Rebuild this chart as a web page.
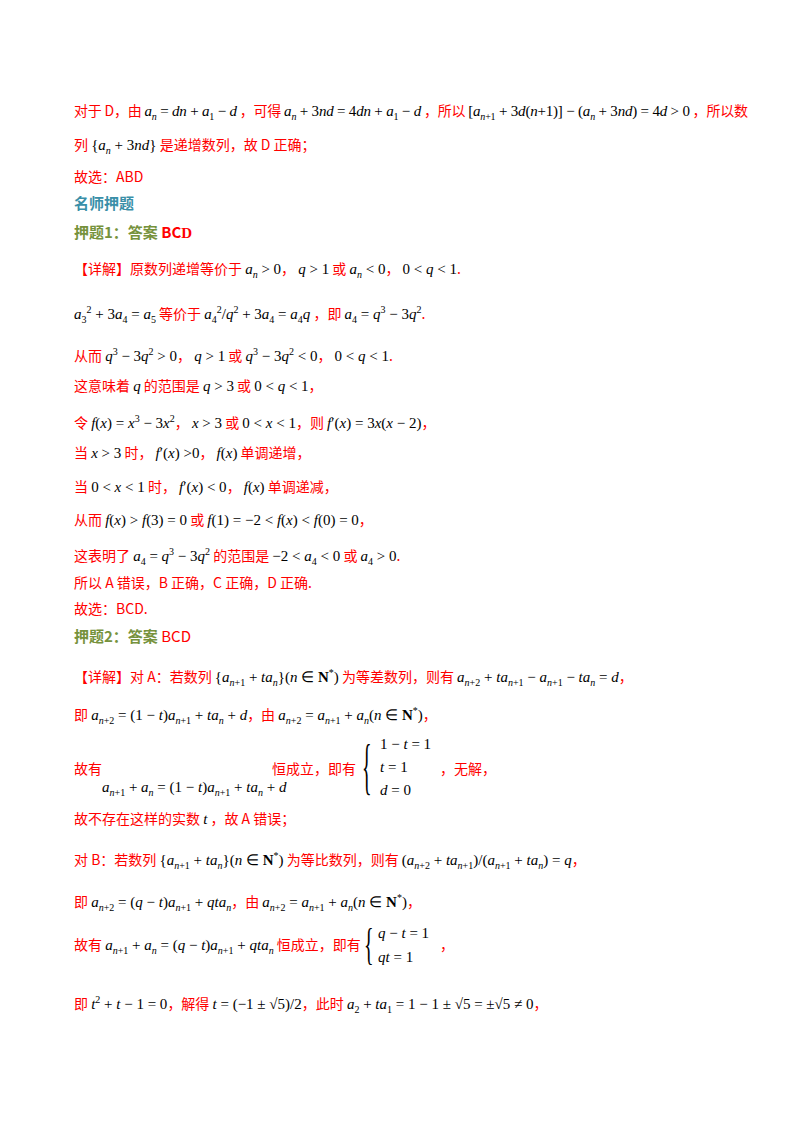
<!DOCTYPE html>
<html><head><meta charset="utf-8">
<script src="https://cdn.jsdelivr.net/npm/chart.js@4"></script>
<style>
body{margin:0;width:800px;height:1132px;background:#fff;position:relative;font-family:"Noto Sans CJK SC",sans-serif;}
.l{position:absolute;left:74px;font-size:14px;color:#f00;white-space:nowrap;line-height:20px;}
.m{font-family:"Liberation Serif",serif;color:#000;font-size:15px;}
i{font-family:"Liberation Serif",serif;}
.h1{color:#3a8fa8;font-weight:bold;font-size:15px;}
.h2{color:#76923c;font-weight:bold;font-size:15px;}
sub,sup{font-size:10px;}
.br{position:absolute;color:#000;font-family:'Liberation Serif';transform-origin:left top;}
</style></head><body>
<div class="l" style="top:100px;letter-spacing:-0.2px">对于 D，由 <span class="m"><i>a<sub>n</sub></i> = <i>dn</i> + <i>a</i><sub>1</sub> − <i>d</i></span> ，可得 <span class="m"><i>a<sub>n</sub></i> + 3<i>nd</i> = 4<i>dn</i> + <i>a</i><sub>1</sub> − <i>d</i></span> ，所以 <span class="m">[<i>a</i><sub><i>n</i>+1</sub> + 3<i>d</i>(<i>n</i>+1)] − (<i>a<sub>n</sub></i> + 3<i>nd</i>) = 4<i>d</i> &gt; 0</span> ，所以数</div>
<div class="l" style="top:134px">列 <span class="m">{<i>a<sub>n</sub></i> + 3<i>nd</i>}</span> 是递增数列，故 D 正确；</div>
<div class="l" style="top:166px">故选：ABD</div>
<div class="l h1" style="top:193px">名师押题</div>
<div class="l h2" style="top:222px">押题1：答案 <span style="color:#f00">BC<span style="font-family:'Liberation Serif';font-weight:bold">D</span></span></div>
<div class="l" style="top:258px">【详解】原数列递增等价于 <span class="m"><i>a<sub>n</sub></i> &gt; 0</span>， <span class="m"><i>q</i> &gt; 1</span> 或 <span class="m"><i>a<sub>n</sub></i> &lt; 0</span>， <span class="m">0 &lt; <i>q</i> &lt; 1</span>.</div>
<div class="l" style="top:300px"><span class="m"><i>a</i><sub>3</sub><sup>2</sup> + 3<i>a</i><sub>4</sub> = <i>a</i><sub>5</sub></span> 等价于 <span class="m"><i>a</i><sub>4</sub><sup>2</sup>/<i>q</i><sup>2</sup> + 3<i>a</i><sub>4</sub> = <i>a</i><sub>4</sub><i>q</i></span> ，即 <span class="m"><i>a</i><sub>4</sub> = <i>q</i><sup>3</sup> − 3<i>q</i><sup>2</sup></span>.</div>
<div class="l" style="top:342px">从而 <span class="m"><i>q</i><sup>3</sup> − 3<i>q</i><sup>2</sup> &gt; 0</span>， <span class="m"><i>q</i> &gt; 1</span> 或 <span class="m"><i>q</i><sup>3</sup> − 3<i>q</i><sup>2</sup> &lt; 0</span>， <span class="m">0 &lt; <i>q</i> &lt; 1</span>.</div>
<div class="l" style="top:375px">这意味着 <span class="m"><i>q</i></span> 的范围是 <span class="m"><i>q</i> &gt; 3</span> 或 <span class="m">0 &lt; <i>q</i> &lt; 1</span>，</div>
<div class="l" style="top:409px">令 <span class="m"><i>f</i>(<i>x</i>) = <i>x</i><sup>3</sup> − 3<i>x</i><sup>2</sup></span>， <span class="m"><i>x</i> &gt; 3</span> 或 <span class="m">0 &lt; <i>x</i> &lt; 1</span>，则 <span class="m"><i>f</i>′(<i>x</i>) = 3<i>x</i>(<i>x</i> − 2)</span>，</div>
<div class="l" style="top:442px">当 <span class="m"><i>x</i> &gt; 3</span> 时， <span class="m"><i>f</i>′(<i>x</i>) &gt;0</span>， <span class="m"><i>f</i>(<i>x</i>)</span> 单调递增，</div>
<div class="l" style="top:476px">当 <span class="m">0 &lt; <i>x</i> &lt; 1</span> 时， <span class="m"><i>f</i>′(<i>x</i>) &lt; 0</span>， <span class="m"><i>f</i>(<i>x</i>)</span> 单调递减，</div>
<div class="l" style="top:509px">从而 <span class="m"><i>f</i>(<i>x</i>) &gt; <i>f</i>(3) = 0</span> 或 <span class="m"><i>f</i>(1) = −2 &lt; <i>f</i>(<i>x</i>) &lt; <i>f</i>(0) = 0</span>，</div>
<div class="l" style="top:542px">这表明了 <span class="m"><i>a</i><sub>4</sub> = <i>q</i><sup>3</sup> − 3<i>q</i><sup>2</sup></span> 的范围是 <span class="m">−2 &lt; <i>a</i><sub>4</sub> &lt; 0</span> 或 <span class="m"><i>a</i><sub>4</sub> &gt; 0</span>.</div>
<div class="l" style="top:572px">所以 A 错误，B 正确，C 正确，D 正确.</div>
<div class="l" style="top:598px">故选：BCD.</div>
<div class="l h2" style="top:626px">押题2：答案 <span style="color:#f00;font-weight:normal">BCD</span></div>
<div class="l" style="top:663px">【详解】对 A：若数列 <span class="m">{<i>a</i><sub><i>n</i>+1</sub> + <i>ta<sub>n</sub></i>}(<i>n</i> ∈ <b>N</b><sup>*</sup>)</span> 为等差数列，则有 <span class="m"><i>a</i><sub><i>n</i>+2</sub> + <i>ta</i><sub><i>n</i>+1</sub> − <i>a</i><sub><i>n</i>+1</sub> − <i>ta<sub>n</sub></i> = <i>d</i></span>，</div>
<div class="l" style="top:701px">即 <span class="m"><i>a</i><sub><i>n</i>+2</sub> = (1 − <i>t</i>)<i>a</i><sub><i>n</i>+1</sub> + <i>ta<sub>n</sub></i> + <i>d</i></span>，由 <span class="m"><i>a</i><sub><i>n</i>+2</sub> = <i>a</i><sub><i>n</i>+1</sub> + <i>a<sub>n</sub></i>(<i>n</i> ∈ <b>N</b><sup>*</sup>)</span>，</div>
<div class="l" style="top:758px">故有</div>
<div class="l" style="top:776px;left:102px"><span class="m"><i>a</i><sub><i>n</i>+1</sub> + <i>a<sub>n</sub></i> = (1 − <i>t</i>)<i>a</i><sub><i>n</i>+1</sub> + <i>ta<sub>n</sub></i> + <i>d</i></span></div>
<div class="l" style="top:758px;left:272px">恒成立，即有</div>
<div class="br" style="top:734px;left:362px;font-size:20px;line-height:20px;transform:scale(1,3.1)">{</div>
<div class="l" style="top:733px;left:380px"><span class="m">1 − <i>t</i> = 1</span></div>
<div class="l" style="top:756px;left:380px"><span class="m"><i>t</i> = 1</span></div>
<div class="l" style="top:758px;left:440px">，无解，</div>
<div class="l" style="top:779px;left:380px"><span class="m"><i>d</i> = 0</span></div>
<div class="l" style="top:808px">故不存在这样的实数 <span class="m"><i>t</i></span> ，故 A 错误；</div>
<div class="l" style="top:846px">对 B：若数列 <span class="m">{<i>a</i><sub><i>n</i>+1</sub> + <i>ta<sub>n</sub></i>}(<i>n</i> ∈ <b>N</b><sup>*</sup>)</span> 为等比数列，则有 <span class="m">(<i>a</i><sub><i>n</i>+2</sub> + <i>ta</i><sub><i>n</i>+1</sub>)/(<i>a</i><sub><i>n</i>+1</sub> + <i>ta<sub>n</sub></i>) = <i>q</i></span>，</div>
<div class="l" style="top:888px">即 <span class="m"><i>a</i><sub><i>n</i>+2</sub> = (<i>q</i> − <i>t</i>)<i>a</i><sub><i>n</i>+1</sub> + <i>qta<sub>n</sub></i></span>，由 <span class="m"><i>a</i><sub><i>n</i>+2</sub> = <i>a</i><sub><i>n</i>+1</sub> + <i>a<sub>n</sub></i>(<i>n</i> ∈ <b>N</b><sup>*</sup>)</span>，</div>
<div class="l" style="top:934px">故有 <span class="m"><i>a</i><sub><i>n</i>+1</sub> + <i>a<sub>n</sub></i> = (<i>q</i> − <i>t</i>)<i>a</i><sub><i>n</i>+1</sub> + <i>qta<sub>n</sub></i></span> 恒成立，即有</div>
<div class="br" style="top:922px;left:364px;font-size:20px;line-height:20px;transform:scale(1,2.2)">{</div>
<div class="l" style="top:922px;left:378px"><span class="m"><i>q</i> − <i>t</i> = 1</span></div>
<div class="l" style="top:946px;left:378px"><span class="m"><i>qt</i> = 1</span></div>
<div class="l" style="top:934px;left:440px">，</div>
<div class="l" style="top:990px">即 <span class="m"><i>t</i><sup>2</sup> + <i>t</i> − 1 = 0</span>，解得 <span class="m"><i>t</i> = (−1 ± √5)/2</span>，此时 <span class="m"><i>a</i><sub>2</sub> + <i>ta</i><sub>1</sub> = 1 − 1 ± √5 = ±√5 ≠ 0</span>，</div>
</body></html>
